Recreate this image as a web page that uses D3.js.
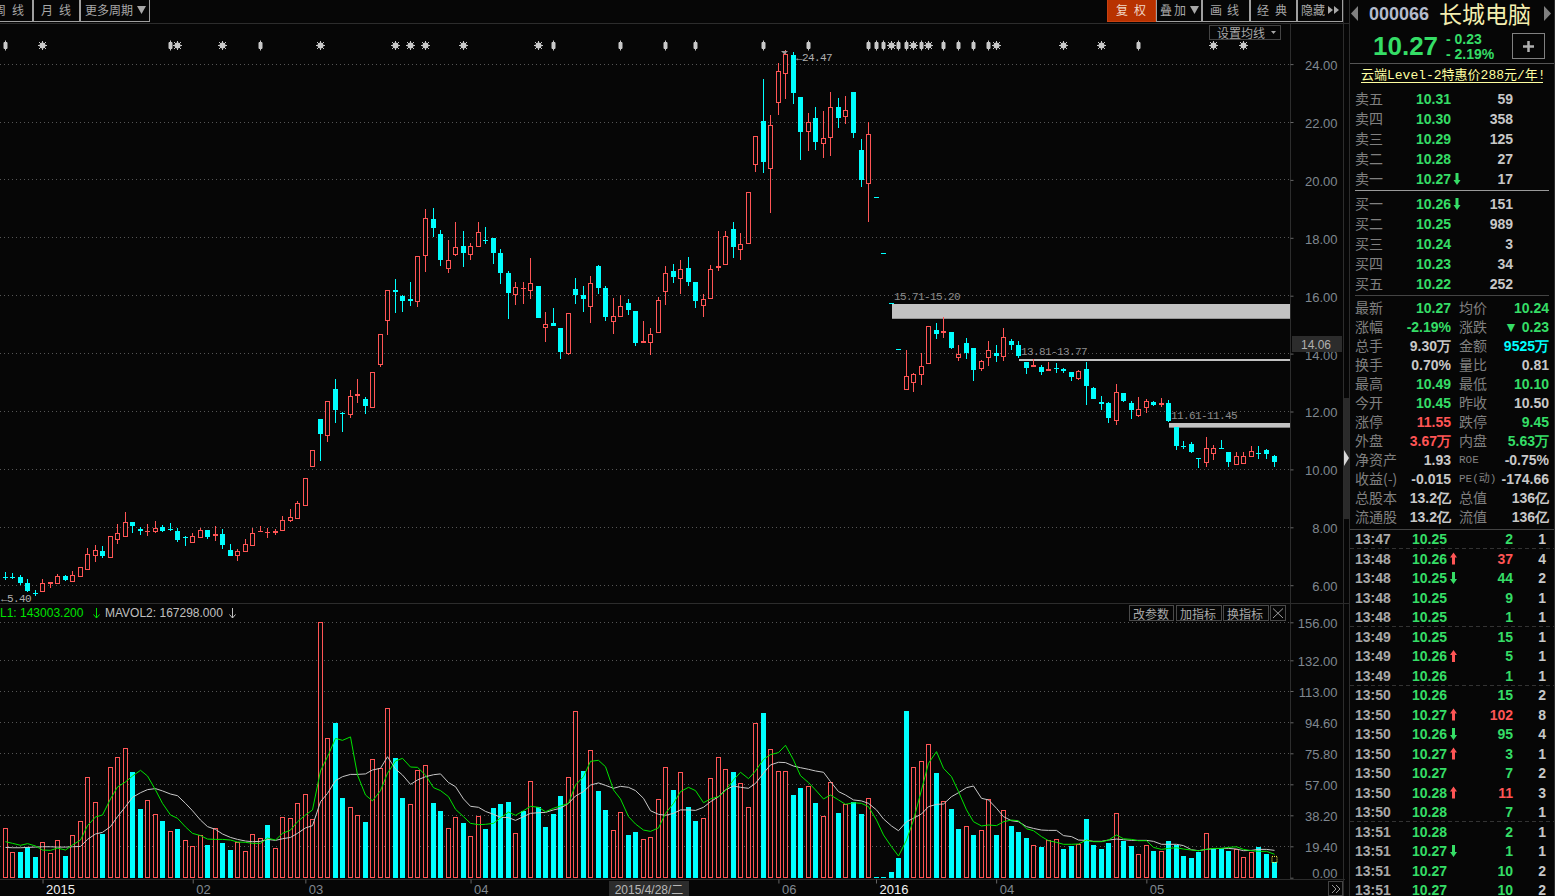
<!DOCTYPE html>
<html>
<head>
<meta charset="utf-8">
<script src="https://d3js.org/d3.v7.min.js"></script>
<style>
  html, body { margin: 0; padding: 0; background: #060606; overflow: hidden; }
  svg { display: block; }
  text { font-family: "Liberation Sans", Arial, sans-serif; }
  .cjk { font-family: "Noto Sans CJK SC", sans-serif; }
  .mono { font-family: "Liberation Mono", monospace; }
  .mix { font-family: "Liberation Mono", "Noto Sans CJK SC", monospace; }
  .mixs { font-family: "Liberation Sans", "Noto Sans CJK SC", sans-serif; }
</style>
</head>
<body>
<svg id="chart" width="1555" height="896"></svg>
<script>
// ---- daily candles, index 0 .. 169 ----
const open = [
  6.30,6.27,6.28,6.08,5.74,5.81,6.03,6.09,6.31,6.16, 6.33,6.57,7.03,7.17,6.98,7.58,7.71,8.20,7.94,7.85,
  7.86,8.00,7.94,7.87,7.65,7.50,7.65,7.91,7.71,7.77, 7.22,7.03,7.19,7.40,7.83,7.81,7.81,7.92,8.25,8.33,
  8.78,10.13,11.74,11.20,12.77,11.96,11.92,12.54,12.43,12.16, 13.65,15.17,16.19,15.98,15.88,15.83,17.42,18.64,18.12,16.95,
  17.44,17.70,17.44,17.70,17.94,17.98,17.46,16.80,16.06,16.23, 16.20,16.32,14.92,15.07,14.87,14.02,16.22,16.01,15.64,17.01,
  16.25,15.13,15.30,15.74,15.46,14.37,14.40,14.75,16.16,16.84, 16.61,16.94,16.46,15.68,15.92,16.95,17.09,18.31,17.61,17.82,
  20.55,22.05,20.40,22.68,23.68,24.32,22.87,21.68,22.15,21.26, 21.47,22.53,22.20,23.05,21.05,19.89,19.40,17.46,15.74,14.15,
  12.77,13.02,13.28,13.68,14.83,14.72,14.76,13.87,14.35,14.21, 13.50,13.87,14.03,13.93,14.42,14.31,13.72,13.55,13.55,13.41,
  13.51,13.47,13.38,13.17,13.48,12.82,12.34,12.30,11.72,12.64, 12.30,11.87,12.14,12.32,12.23,12.30,11.47,10.82,10.88,10.38,
  10.27,10.58,10.73,10.59,10.20,10.22,10.47,10.55,10.67,10.45
];
const high = [
  6.44,6.42,6.35,6.20,5.83,6.20,6.12,6.37,6.34,6.48, 6.62,7.28,7.38,7.34,7.69,8.11,8.53,8.20,8.00,8.11,
  8.22,8.07,8.14,7.96,7.69,7.79,7.96,7.91,8.03,7.94, 7.42,7.25,7.59,7.97,8.03,7.96,7.94,8.39,8.62,8.90,
  9.69,10.66,11.74,12.35,13.12,12.00,12.74,13.12,12.50,13.38, 14.69,16.20,16.57,16.01,16.46,17.38,18.98,19.02,18.27,17.92,
  18.53,18.25,17.83,18.53,18.36,17.98,17.60,16.87,16.46,16.46, 17.29,16.32,15.43,15.56,14.87,15.41,16.60,16.32,16.67,17.05,
  16.32,15.91,16.01,15.87,15.46,15.11,14.87,15.94,17.01,17.11, 17.22,17.32,16.49,16.05,17.05,18.22,18.22,18.56,18.15,19.59,
  21.53,23.49,22.25,24.05,24.47,24.43,22.87,22.32,22.53,22.39, 23.05,22.84,22.91,23.05,21.43,22.01,19.40,17.46,15.74,14.15,
  14.14,13.33,14.02,14.97,15.04,15.25,14.76,14.28,14.55,14.21, 13.79,14.42,14.31,14.90,14.52,14.42,13.72,13.83,13.62,13.72,
  13.69,13.51,13.38,13.45,13.72,12.84,12.54,12.34,12.96,12.64, 12.37,12.51,12.44,12.37,12.47,12.40,11.47,10.98,10.95,10.38,
  11.12,10.84,11.02,10.59,10.59,10.59,10.81,10.81,10.71,10.49
];
const low = [
  6.18,6.20,6.01,5.77,5.63,5.81,5.91,6.09,6.16,6.16, 6.29,6.54,6.81,6.95,6.98,7.43,7.68,7.81,7.73,7.71,
  7.81,7.84,7.87,7.49,7.35,7.47,7.65,7.61,7.53,7.25, 7.02,6.85,7.16,7.40,7.83,7.64,7.74,7.92,8.19,8.33,
  8.78,10.10,10.29,10.94,11.60,11.29,11.77,12.29,11.91,12.16, 13.54,14.65,15.40,15.44,15.64,15.61,16.83,18.04,17.04,16.80,
  17.36,16.98,17.25,17.67,17.80,17.08,16.39,15.18,15.67,15.70, 15.87,15.22,14.39,14.94,13.80,13.94,15.70,15.43,15.05,16.05,
  15.11,14.67,15.30,15.32,14.25,14.37,13.94,14.75,15.67,16.43, 16.05,16.32,15.56,15.25,15.92,16.84,17.09,17.29,17.25,17.82,
  20.29,20.25,18.84,22.25,22.80,22.63,20.70,21.01,21.05,20.74, 20.84,21.80,21.94,21.46,19.74,18.56,19.40,17.46,15.74,14.15,
  12.77,12.69,12.92,13.68,14.49,14.55,14.17,13.76,13.83,13.06, 13.41,13.58,13.72,13.76,14.14,13.86,13.31,13.55,13.27,13.41,
  13.34,13.33,13.06,13.10,12.23,12.44,12.06,11.61,11.54,12.34, 11.75,11.82,11.95,12.20,12.16,11.64,10.67,10.71,10.57,10.05,
  10.08,10.32,10.71,10.08,10.20,10.18,10.42,10.36,10.36,10.10
];
const close = [
  6.28,6.25,6.08,5.80,5.72,6.06,6.10,6.31,6.18,6.34, 6.62,7.07,7.20,7.02,7.69,7.79,8.17,8.05,7.88,7.87,
  7.96,7.87,7.92,7.56,7.63,7.69,7.89,7.66,7.76,7.39, 7.02,7.17,7.41,7.79,7.86,7.84,7.87,8.24,8.34,8.83,
  9.69,10.66,11.23,12.35,12.06,11.93,12.55,12.59,12.19,13.38, 14.69,16.20,16.13,15.82,15.83,17.38,18.67,18.35,17.24,17.22,
  17.68,17.49,17.72,18.21,17.92,17.46,16.77,16.08,16.31,16.25, 16.45,15.22,15.03,14.94,14.05,15.41,16.01,15.87,16.45,16.25,
  15.25,15.31,15.66,15.49,14.36,14.45,14.66,15.86,16.79,16.63, 16.93,16.46,15.80,15.90,16.93,17.03,18.07,17.67,17.79,19.59,
  21.52,20.63,21.90,23.77,24.36,23.01,21.67,22.00,21.32,21.45, 22.52,22.15,22.41,21.63,20.01,21.59,19.40,17.46,15.74,14.15,
  13.23,13.28,13.57,14.97,14.66,14.79,14.20,13.97,14.03,13.45, 13.76,14.13,13.90,14.59,14.28,13.90,13.49,13.61,13.38,13.47,
  13.48,13.40,13.20,13.41,12.89,12.44,12.25,11.78,12.67,12.37, 12.06,12.08,12.36,12.22,12.31,11.68,10.81,10.79,10.60,10.35,
  10.73,10.73,10.71,10.25,10.45,10.46,10.62,10.53,10.53,10.27
];

// ---- volume in 10k shares, r = red (hollow), c = cyan (filled) ----
const volume = [
  30.1,15.5,15.7,18.5,12.6,21.6,14.9,23.0,13.2,25.9, 34.4,61.3,46.0,26.7,67.4,73.5,79.0,64.6,42.0,47.3,
  38.7,34.6,28.3,29.7,22.8,19.1,25.9,20.0,30.1,21.2, 16.9,22.0,16.1,26.5,24.2,32.2,17.9,36.9,36.3,45.4,
  50.9,35.6,156.0,85.1,94.5,48.7,43.0,38.1,34.0,72.3, 66.8,103.5,73.1,48.7,44.8,65.6,68.6,45.6,40.7,30.1,
  37.1,33.4,25.3,37.5,29.7,42.6,45.0,46.2,27.1,40.7, 58.9,43.2,31.0,38.9,49.9,61.3,101.6,65.2,77.8,53.0,
  41.3,28.9,39.9,26.1,27.9,23.4,24.6,47.9,67.4,53.6, 64.4,43.2,34.6,36.3,60.7,73.5,66.2,64.6,57.6,43.0,
  94.3,100.6,78.4,65.0,65.0,50.5,54.8,55.8,45.6,37.5, 58.2,39.5,44.8,46.2,38.9,48.5,0.2,0.2,3.5,12.0,
  101.8,67.4,71.1,81.5,64.0,46.6,42.0,29.7,31.4,26.1, 28.9,47.9,26.1,41.1,31.6,27.9,24.2,19.8,18.7,23.0,
  23.4,17.5,19.3,20.6,35.8,20.0,17.5,21.2,39.3,22.4, 19.3,14.3,19.8,16.5,16.1,22.4,20.0,13.2,12.0,15.7,
  27.1,17.3,17.5,16.3,17.3,12.4,15.9,18.7,14.5,9.3
];
const volDir =
  "rrcccrrrcr" + "rrrcrrrccr" + "rcrcrrrcrc" + "crrrrcrrrr" + "rrrrccrrcr" + "rrccrrrccr" +
  "rcrrccccrc" + "rccccrrcrc" + "crrccrrrrc" + "rccrrrrcrr" + "rcrrrccrcr" + "rcrccrcccc" +
  "crrrcrccrc" + "rrcrcccrcr" + "rccrccccrc" + "crrcrccccc" + "rcccrrrccc";
const mavol1 = [
  22.0,21.0,19.8,20.8,19.4,16.9,16.7,18.1,16.9,20.0, 23.0,31.8,37.1,38.3,48.1,55.4,58.5,62.1,65.6,62.1,
  53.6,45.4,38.3,36.3,31.0,27.1,25.7,23.6,23.4,23.4, 23.0,21.8,21.6,21.0,21.0,24.2,23.0,27.1,29.1,34.2,
  38.3,41.4,65.2,73.9,85.1,83.9,86.0,62.7,50.5,46.9, 53.2,63.8,71.3,72.9,67.6,67.4,62.7,55.0,53.2,49.5,
  41.8,37.3,33.2,32.4,32.6,33.2,36.5,40.1,38.1,40.9, 43.6,43.0,40.3,42.4,43.8,45.4,56.6,61.7,71.1,71.7,
  67.8,53.6,48.1,37.3,32.8,29.1,28.3,30.4,39.3,45.4, 52.6,55.2,53.2,45.8,48.1,49.5,53.2,59.7,64.4,60.5,
  65.2,72.3,75.2,76.4,80.9,71.9,62.3,58.1,53.6,48.1, 50.5,47.5,44.8,45.8,45.4,43.4,35.2,26.1,18.9,13.2,
  23.0,35.2,53.6,69.9,77.0,66.8,61.7,52.6,41.4,34.2, 31.6,32.2,31.8,34.2,35.2,34.8,29.9,28.7,25.1,22.6,
  21.6,20.4,20.4,20.6,23.0,22.0,22.0,23.0,26.1,23.8, 23.4,22.6,22.6,18.5,17.3,17.9,18.3,17.5,16.9,16.5,
  17.3,17.9,17.9,18.5,18.9,17.3,16.5,16.1,16.1,14.3
];
const mavol2 = [
  18.5,18.3,18.3,18.5,18.7,18.9,18.9,18.7,18.7,18.9, 19.1,23.4,26.7,27.7,31.2,37.3,43.4,49.1,51.9,53.8,
  54.4,53.0,51.1,50.1,45.4,40.9,35.2,31.2,29.5,26.7, 24.6,23.4,22.4,22.0,22.2,23.4,22.8,23.8,24.6,27.1,
  30.4,31.8,46.4,51.5,59.3,61.7,63.1,63.1,63.4,65.8, 66.8,73.9,66.4,62.7,57.0,59.7,61.7,62.9,63.4,58.1,
  55.6,48.1,43.6,43.0,40.5,38.7,36.9,36.7,35.0,37.3, 39.3,39.7,39.9,41.4,42.4,45.4,49.9,52.6,56.6,57.9,
  56.4,54.6,55.8,55.2,53.2,48.5,40.9,38.7,38.1,39.3, 41.4,41.4,41.1,43.0,46.4,49.5,53.6,56.0,55.2,54.6,
  57.6,63.8,68.9,70.5,70.3,68.2,67.2,66.2,65.2,64.4, 58.7,52.6,50.5,47.5,46.9,45.4,41.4,35.9,31.6,28.7,
  34.2,36.3,38.9,43.4,44.8,45.0,49.5,51.9,55.0,56.0, 48.5,47.5,42.4,37.3,34.8,34.2,31.2,30.1,29.1,28.9,
  28.9,25.7,25.1,23.0,22.8,22.2,22.2,23.0,23.6,23.2, 22.8,22.8,22.8,22.2,20.4,20.4,20.4,19.6,17.1,16.5,
  17.3,17.7,17.9,17.9,17.5,16.5,16.7,17.3,17.3,16.7
];

// ---- axes and annotations ----
const priceTicks = [24, 22, 20, 18, 16, 14, 12, 10, 8, 6];
const volTicks = [156, 132, 113, 94.6, 75.8, 57, 38.2, 19.4, 0];
const timeTicks = [5, 25, 40, 62, 103, 116, 132, 152];
const timeLabels = ["2015", "02", "03", "04", "06", "2016", "04", "05"];
const zoneStart = [118, 135, 155];
const zoneHigh = [15.71, 13.81, 11.61];
const zoneLow = [15.20, 13.77, 11.45];
const starMarks = [5, 23, 29, 42, 52, 54, 56, 61, 71, 118, 121, 123, 132, 141, 146, 161, 165];
const stemMarks = [0, 22, 34, 73, 82, 88, 92, 101, 107, 115, 116, 117, 119, 120, 122, 125, 127, 129, 131, 151];

// ---- quote panel ----
const bookLabels = ["卖五", "卖四", "卖三", "卖二", "卖一", "买一", "买二", "买三", "买四", "买五"];
const bookPrices = ["10.31", "10.30", "10.29", "10.28", "10.27", "10.26", "10.25", "10.24", "10.23", "10.22"];
const bookVols = ["59", "358", "125", "27", "17", "151", "989", "3", "34", "252"];
const bookRows = [99, 119, 139, 159, 179, 204, 224, 244, 264, 284];
const statLeftLabels = ["最新", "涨幅", "总手", "换手", "最高", "今开", "涨停", "外盘", "净资产", "收益(-)", "总股本", "流通股"];
const statLeftValues = ["10.27", "-2.19%", "9.30万", "0.70%", "10.49", "10.45", "11.55", "3.67万", "1.93", "-0.015", "13.2亿", "13.2亿"];
const statLeftKinds = "ggwwggrrwwww";
const statRightLabels = ["均价", "涨跌", "金额", "量比", "最低", "昨收", "跌停", "内盘", "ROE", "PE(动)", "总值", "流值"];
const statRightValues = ["10.24", "▼ 0.23", "9525万", "0.81", "10.10", "10.50", "9.45", "5.63万", "-0.75%", "-174.66", "136亿", "136亿"];
const statRightKinds = "ggcwgwggwwww";
const tickTimes = ["13:47","13:48","13:48","13:48","13:48","13:49","13:49","13:49","13:50","13:50","13:50","13:50","13:50","13:50","13:50","13:51","13:51","13:51","13:51"];
const tickPrices = ["10.25","10.26","10.25","10.25","10.25","10.25","10.26","10.26","10.26","10.27","10.26","10.27","10.27","10.28","10.28","10.28","10.27","10.27","10.27"];
const tickVols = [2, 37, 44, 9, 1, 15, 5, 1, 15, 102, 95, 3, 7, 11, 7, 2, 1, 10, 10];
const tickCounts = [1, 4, 2, 1, 1, 1, 1, 1, 2, 8, 4, 1, 2, 3, 1, 1, 1, 2, 2];

const BG = "#060606", RED = "#ff5555", CYAN = "#00ffff", GREEN = "#35dd66", GREY = "#808080", WHITE = "#c8c8c8";
const svg = d3.select("#chart");

// scales
const x = d3.scaleLinear().domain([0, 169]).range([5, 1274]);
const px = i => Math.floor(x(i));
const y = d3.scaleLinear().domain([10, 24]).range([469.4, 64.1]);
const yv = d3.scaleLinear().domain([0, 156]).range([877.7, 622.3]);
// the volume axis in the terminal is rounded, so its ticks are not quite linear
const yvAxis = d3.scaleLinear()
  .domain([0, 19.4, 38.2, 57, 75.8, 94.6, 113, 132, 156])
  .range([877.7, 846.3, 815.3, 784.3, 753.3, 722.3, 691, 660.3, 622.3]);
const snap = v => Math.floor(v) + 0.5;
const days = d3.range(open.length);

// gridlines
svg.append("g").selectAll("line").data(priceTicks).join("line")
  .attr("x1", 0).attr("x2", 1290).attr("y1", d => snap(y(d))).attr("y2", d => snap(y(d)))
  .attr("stroke", "#555").attr("stroke-dasharray", "1,3");
svg.append("g").selectAll("line").data(volTicks.slice(0, -1)).join("line")
  .attr("x1", 0).attr("x2", 1290).attr("y1", d => snap(yvAxis(d))).attr("y2", d => snap(yvAxis(d)))
  .attr("stroke", "#555").attr("stroke-dasharray", "1,3");

// frame lines
const frame = svg.append("g").attr("stroke", "#2c2c2c");
[[0, 23.5, 1349, 23.5], [0, 603.5, 1349, 603.5], [0, 879.5, 1345, 879.5],
 [1290.5, 24, 1290.5, 879], [1343.5, 0, 1343.5, 896], [1349.5, 0, 1349.5, 896], [1554.5, 0, 1554.5, 896]]
  .forEach(l => frame.append("line").attr("x1", l[0]).attr("y1", l[1]).attr("x2", l[2]).attr("y2", l[3]));

// price zones behind the candles
svg.append("g").selectAll("rect").data(zoneStart).join("rect")
  .attr("x", d => px(d) + 1).attr("width", d => 1290 - px(d) - 1)
  .attr("y", (d, i) => Math.round(y(zoneHigh[i])))
  .attr("height", (d, i) => Math.max(2, y(zoneLow[i]) - y(zoneHigh[i])))
  .attr("fill", "#c2c2c2");
svg.append("g").selectAll("text").data(zoneStart).join("text")
  .attr("class", "mono").attr("font-size", 11).attr("letter-spacing", "-0.6px").attr("fill", "#8c8c8c")
  .attr("x", d => px(d) + 3)
  .attr("y", (d, i) => Math.round(y(zoneHigh[i])) - 4)
  .text((d, i) => zoneHigh[i].toFixed(2) + "-" + zoneLow[i].toFixed(2));

// candles
const candle = svg.append("g").selectAll("g").data(days).join("g");
candle.append("line")
  .attr("x1", i => px(i) + 0.5).attr("x2", i => px(i) + 0.5)
  .attr("y1", i => Math.round(y(high[i]))).attr("y2", i => Math.round(y(low[i])))
  .attr("stroke", i => close[i] > open[i] ? RED : CYAN);
candle.append("rect")
  .each(function (i) {
    const top = Math.round(y(Math.max(open[i], close[i])));
    const bot = Math.round(y(Math.min(open[i], close[i])));
    const sel = d3.select(this);
    if (close[i] > open[i] && bot - top > 2) {
      sel.attr("x", px(i) - 1.5).attr("width", 4).attr("y", top + 0.5).attr("height", bot - top)
        .attr("fill", BG).attr("stroke", RED);
    } else {
      sel.attr("x", px(i) - 2).attr("width", 5).attr("y", top).attr("height", Math.max(1, bot - top))
        .attr("fill", close[i] > open[i] ? RED : CYAN);
    }
  });

// extreme labels
svg.append("path").attr("d", `M${px(104) - 4} 51h7l-3.500 3.500z`).attr("fill", "#999");
svg.append("text").attr("class", "mono").attr("font-size", 11).attr("letter-spacing", "-0.6px").attr("fill", "#b0b0b0")
  .attr("x", px(104) + 11).attr("y", 61).text("←24.47");
svg.append("text").attr("class", "mono").attr("font-size", 11).attr("letter-spacing", "-0.6px").attr("fill", "#b0b0b0")
  .attr("x", 1).attr("y", 602).text("←5.40");

// marker row
const markY = 45.5;
svg.append("g").selectAll("path").data(stemMarks).join("path")
  .attr("d", i => `M${px(i) + 0.5} ${markY - 5}V${markY + 5}M${px(i) - 1} ${markY - 3}h3v6h-3z`)
  .attr("stroke", "#c8c8c8").attr("fill", "#c8c8c8");
const star = svg.append("g").selectAll("g").data(starMarks).join("g")
  .attr("transform", i => `translate(${px(i) + 0.5},${markY})`);
star.append("circle").attr("r", 3).attr("fill", "#c8c8c8");
star.append("path").attr("d", "M-4.5 0H4.5M0 -4.5V4.5M-3.5 -3.5L3.5 3.5M-3.5 3.5L3.5 -3.5")
  .attr("stroke", "#c8c8c8").attr("stroke-width", 1);

// axes
function styleAxis(g) {
  g.select(".domain").remove();
  g.selectAll("line").attr("stroke", "#666");
  g.selectAll("text").attr("fill", "#808890").attr("font-size", 13);
}
const priceAxis = d3.axisRight(y).tickValues(priceTicks).tickFormat(d3.format(".2f")).tickSize(3);
svg.append("g").attr("transform", "translate(1290.5,0)").call(priceAxis).call(styleAxis)
  .call(g => g.selectAll("text").attr("text-anchor", "end").attr("x", 47).attr("dy", "0.42em"));
const volAxis = d3.axisRight(yvAxis).tickValues(volTicks).tickFormat(d3.format(".2f")).tickSize(3);
svg.append("g").attr("transform", "translate(1290.5,0)").call(volAxis).call(styleAxis)
  .call(g => g.selectAll("text").attr("text-anchor", "end").attr("x", 47)
    .attr("dy", "0.42em").attr("y", d => d === 0 ? -6 : 0));
const timeAxis = d3.axisBottom(x).tickValues(timeTicks).tickFormat((d, i) => timeLabels[i]).tickSize(4);
svg.append("g").attr("transform", "translate(0,879.5)").call(timeAxis).call(styleAxis)
  .call(g => g.selectAll("text")
    .attr("text-anchor", "start").attr("x", 3).attr("y", 4).attr("dy", "0.78em")
    .attr("fill", (d, i) => timeLabels[i].length > 2 ? "#f0f0f0" : "#808890"));

// volume bars
svg.append("g").selectAll("rect").data(days).join("rect")
  .each(function (i) {
    const top = Math.round(yv(volume[i]));
    const sel = d3.select(this);
    if (volDir[i] === "r") {
      sel.attr("x", px(i) - 1.5).attr("width", 4).attr("y", top + 0.5).attr("height", 877.5 - top - 0.5)
        .attr("fill", BG).attr("stroke", RED);
    } else {
      sel.attr("x", px(i) - 2).attr("width", 5).attr("y", top).attr("height", 878 - top)
        .attr("fill", CYAN);
    }
  });
svg.append("rect").attr("x", px(169) - 2).attr("width", 5)
  .attr("y", yv(13)).attr("height", yv(volume[169]) - yv(13))
  .attr("fill", "none").attr("stroke", "#ffff44").attr("stroke-dasharray", "1,1");

// average volume lines
const line = d3.line().x(i => px(i) + 0.5);
svg.append("path").datum(days).attr("fill", "none").attr("stroke", "#c8c8c8")
  .attr("d", line.y(i => yv(mavol2[i])));
svg.append("path").datum(days).attr("fill", "none").attr("stroke", "#00e400")
  .attr("d", line.y(i => yv(mavol1[i])));

// volume legend
svg.append("text").attr("x", 0).attr("y", 616.5).attr("font-size", 12).attr("fill", "#00e400").text("L1: 143003.200");
svg.append("text").attr("x", 105).attr("y", 616.5).attr("font-size", 12).attr("fill", "#c0c0c0").text("MAVOL2: 167298.000");
[[96.5, "#00e400"], [232.5, "#c0c0c0"]].forEach(a =>
  svg.append("path").attr("fill", "none").attr("stroke", a[1])
    .attr("d", `M${a[0]} 608V618M${a[0] - 3} 614.5L${a[0]} 618L${a[0] + 3} 614.5`));

// small framed buttons, text starts at tx with the given letter spacing
function button(x0, x1, y0, y1, str, tx, spacing, stroke, fill, color) {
  svg.append("rect").attr("x", x0 + 0.5).attr("y", y0 + 0.5).attr("width", x1 - x0).attr("height", y1 - y0)
    .attr("fill", fill || BG).attr("stroke", stroke);
  svg.append("text").attr("class", "cjk").attr("x", tx).attr("y", (y0 + y1) / 2 + 0.5)
    .attr("dominant-baseline", "central").attr("letter-spacing", spacing + "px")
    .attr("font-size", 12).attr("fill", color || "#a8a8a8").text(str);
}
button(1129, 1173, 605, 620, "改参数", 1133, 0, "#4a4a4a");
button(1176, 1221, 605, 620, "加指标", 1180, 0, "#4a4a4a");
button(1223, 1268, 605, 620, "换指标", 1227, 0, "#4a4a4a");
button(1270, 1285, 605, 620, "", 1270, 0, "#4a4a4a");
svg.append("path").attr("d", "M1273 608.5L1283 618M1283 608.5L1273 618").attr("stroke", "#a0a0a0").attr("fill", "none");
button(1209, 1280, 25, 39, "设置均线", 1217, 0, "#444");
svg.append("path").attr("d", "M1271 31l5 0l-2.500 3z").attr("fill", "#a8a8a8");

// toolbars
const bar = "#a0a0a0";
button(-10, 32, -3, 21, "周线", -6, 6, bar);
button(33, 79, -3, 21, "月线", 41, 6, bar);
button(80, 149, -3, 21, "更多周期", 85, 0, bar);
svg.append("path").attr("d", "M137 6h9l-4.500 8z").attr("fill", "#a8a8a8");
button(1107, 1155, -3, 21, "复权", 1116, 6, "#c84010", "#b83200", "#f0d8c8");
button(1156, 1201, -3, 21, "叠加", 1160, 2, bar);
svg.append("path").attr("d", "M1190 6h9l-4.500 8z").attr("fill", "#a8a8a8");
button(1202, 1249, -3, 21, "画线", 1210, 5, bar);
button(1250, 1296, -3, 21, "经典", 1257, 6, bar);
button(1297, 1342, -3, 21, "隐藏", 1301, 0, bar);
svg.append("path").attr("d", "M1328 6l5 4l-5 4zM1334 6l5 4l-5 4z").attr("fill", "#a8a8a8");

// cursor tags
svg.append("rect").attr("x", 1292).attr("y", 336).attr("width", 50).attr("height", 16).attr("fill", "#2c2c2c");
svg.append("text").attr("x", 1316).attr("y", 349).attr("text-anchor", "middle").attr("font-size", 12).attr("fill", "#b0b0b0").text("14.06");
svg.append("rect").attr("x", 609).attr("y", 881).attr("width", 80).attr("height", 15).attr("fill", "#2c2c2c");
svg.append("text").attr("class", "mixs").attr("x", 649).attr("y", 894).attr("text-anchor", "middle").attr("font-size", 12).attr("fill", "#b8b8b8").text("2015/4/28/二");

// scroll strip and paging button
svg.append("rect").attr("x", 1344).attr("y", 398).attr("width", 5).attr("height", 121).attr("fill", "#2a2a2a");
svg.append("path").attr("d", "M1344 450l5 8l-5 8z").attr("fill", "#d8d8d8");
svg.append("rect").attr("x", 1328.5).attr("y", 881.5).attr("width", 14).attr("height", 14).attr("fill", "none").attr("stroke", "#444");
svg.append("path").attr("d", "M1332 885l4 4l-4 4M1336 885l4 4l-4 4").attr("fill", "none").attr("stroke", "#999");

// ---- quote panel ----
const kinds = { g: GREEN, r: RED, w: WHITE, c: CYAN };
function label(x0, y0, str, color, size, anchor, cls) {
  return svg.append("text").attr("class", cls || "").attr("x", x0).attr("y", cls === "cjk" ? y0 - 1 : y0)
    .attr("dominant-baseline", "central").attr("text-anchor", anchor || "start")
    .attr("font-size", size).attr("font-weight", cls ? "normal" : "bold").attr("fill", color).text(str);
}
function updown(ax, ay, up, color) {
  const s = up ? -1 : 1;
  svg.append("path").attr("fill", color)
    .attr("d", `M${ax - 1.5} ${ay - 6 * s}h3v${7 * s}h2l-3.5 ${5 * s}l-3.5 ${-5 * s}h2z`);
}

svg.append("path").attr("d", "M1358 6v15l-7 -7.5z").attr("fill", "#808080");
svg.append("path").attr("d", "M1544 6v15l7 -7.5z").attr("fill", "#808080");
label(1369, 14, "000066", "#b4bccc", 18);
label(1439, 14, "长城电脑", "#f4eeb0", 23, "start", "cjk");
label(1373, 46, "10.27", GREEN, 26);
label(1446, 39, "- 0.23", GREEN, 14);
label(1446, 54, "- 2.19%", GREEN, 14);
svg.append("rect").attr("x", 1512.5).attr("y", 33.5).attr("width", 32).attr("height", 25).attr("fill", "none").attr("stroke", "#808080");
svg.append("path").attr("d", "M1523 46.5h11M1528.5 41v11").attr("stroke", "#b0b0b0").attr("stroke-width", 2.5);
svg.append("line").attr("x1", 1350).attr("x2", 1554).attr("y1", 63.5).attr("y2", 63.5).attr("stroke", "#555");
label(1361, 75, "云端Level-2特惠价288元/年!", "#ffffa0", 13, "start", "mix");
svg.append("line").attr("x1", 1361).attr("x2", 1543).attr("y1", 82.5).attr("y2", 82.5).attr("stroke", "#ffffa0");

bookRows.forEach((ry, i) => {
  label(1355, ry, bookLabels[i], GREY, 14, "start", "cjk");
  label(1416, ry, bookPrices[i], GREEN, 14);
  label(1513, ry, bookVols[i], WHITE, 14, "end");
});
updown(1457, 179, false, GREEN);
updown(1457, 204, false, GREEN);
svg.append("line").attr("x1", 1355).attr("x2", 1549).attr("y1", 190.5).attr("y2", 190.5).attr("stroke", "#9a9a9a");
svg.append("line").attr("x1", 1355).attr("x2", 1549).attr("y1", 295.5).attr("y2", 295.5).attr("stroke", "#444");

const statY = d3.scaleLinear().domain([0, 11]).range([308, 517]);
statLeftLabels.forEach((s, i) => {
  label(1355, statY(i), s, GREY, 14, "start", "cjk");
  const isSmall = statRightLabels[i].charCodeAt(0) < 128;
  label(1459, statY(i), statRightLabels[i], GREY, isSmall ? 11 : 14, "start", isSmall ? "mix" : "cjk");
  label(1451, statY(i), statLeftValues[i], kinds[statLeftKinds[i]], 14, "end");
  label(1549, statY(i), statRightValues[i], kinds[statRightKinds[i]], 14, "end");
});
svg.append("line").attr("x1", 1350).attr("x2", 1554).attr("y1", 529.5).attr("y2", 529.5).attr("stroke", "#444");

const tickY = d3.scaleLinear().domain([0, 18]).range([539, 890]);
const redTicks = [1, 9, 13];
tickTimes.forEach((t, i) => {
  label(1355, tickY(i), t, "#a8a8a8", 14);
  label(1412, tickY(i), tickPrices[i], GREEN, 14);
  label(1513, tickY(i), tickVols[i], redTicks.includes(i) ? RED : GREEN, 14, "end");
  label(1546, tickY(i), tickCounts[i], WHITE, 14, "end");
});
[[1, true], [2, false], [6, true], [9, true], [10, false], [11, true], [13, true], [16, false]]
  .forEach(a => updown(1453.5, tickY(a[0]), a[1], a[1] ? RED : GREEN));
[548.5, 626.5, 685.5, 821.5].forEach(ly =>
  svg.append("line").attr("x1", 1350).attr("x2", 1554).attr("y1", ly).attr("y2", ly)
    .attr("stroke", "#333").attr("stroke-dasharray", "4,3"));
</script>
</body>
</html>
